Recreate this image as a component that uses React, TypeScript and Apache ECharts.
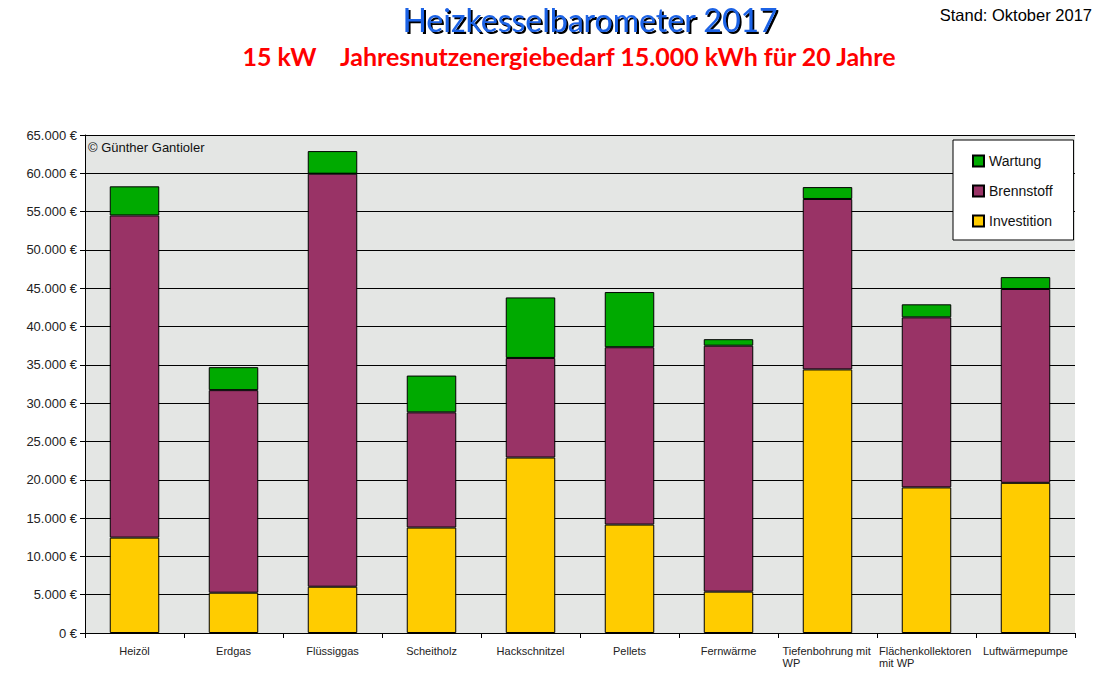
import React, { useEffect, useRef } from 'react';
import * as echarts from 'echarts';

const categories = [
  'Heizöl',
  'Erdgas',
  'Flüssiggas',
  'Scheitholz',
  'Hackschnitzel',
  'Pellets',
  'Fernwärme',
  'Tiefenbohrung mit\nWP',
  'Flächenkollektoren\nmit WP',
  'Luftwärmepumpe',
];
const investition = [12450, 5260, 6040, 13760, 22900, 14150, 5400, 34400, 19000, 19600];
const brennstoff = [42050, 26440, 53910, 15040, 13000, 23150, 32100, 22250, 22200, 25300];
const wartung = [3800, 3000, 2950, 4800, 7900, 7200, 850, 1550, 1700, 1550];
const legendOrder = ['Wartung', 'Brennstoff', 'Investition'];

const fmtEuro = (v: number) =>
  String(v).replace(/\B(?=(\d{3})+(?!\d))/g, '.') + ' €';

export default function App() {
  const ref = useRef<HTMLDivElement>(null);
  useEffect(() => {
    if (!ref.current) return;
    const chart = echarts.init(ref.current, undefined, { renderer: 'svg' });
    const sans = 'Liberation Sans, Arial, sans-serif';
    const barStyle = (color: string) => ({
      color,
      borderColor: '#000',
      borderWidth: 1,
    });
    chart.setOption({
      animation: false,
      backgroundColor: '#ffffff',
      textStyle: { fontFamily: sans },
      graphic: [
        {
          type: 'text',
          style: {
            text: 'Heizkesselbarometer 2017',
            x: 590,
            y: 19,
            textAlign: 'center',
            textVerticalAlign: 'middle',
            font: '32px Lato, sans-serif',
            fill: '#1e63e6',
            textShadowColor: '#000',
            textShadowOffsetX: 2,
            textShadowOffsetY: 2,
            textShadowBlur: 0.5,
          },
        },
        {
          type: 'text',
          style: {
            text: '15 kW    Jahresnutzenergiebedarf 15.000 kWh für 20 Jahre',
            x: 569,
            y: 56,
            textAlign: 'center',
            textVerticalAlign: 'middle',
            font: 'bold 25px Lato, sans-serif',
            fill: '#ff0000',
          },
        },
        {
          type: 'text',
          style: {
            text: 'Stand: Oktober 2017',
            x: 1092,
            y: 15,
            textAlign: 'right',
            textVerticalAlign: 'middle',
            font: '16.5px ' + sans,
            fill: '#000',
          },
        },
        {
          type: 'text',
          style: {
            text: '© Günther Gantioler',
            x: 88,
            y: 147,
            textAlign: 'left',
            textVerticalAlign: 'middle',
            font: '13px ' + sans,
            fill: '#111',
          },
          z: 10,
        },
      ],
      legend: {
        data: legendOrder,
        orient: 'vertical',
        left: 953,
        top: 140,
        backgroundColor: '#fff',
        borderColor: '#000',
        borderWidth: 1,
        padding: [14, 21, 12, 19],
        itemGap: 16,
        itemWidth: 11,
        itemHeight: 11,
        icon: 'rect',
        textStyle: { fontSize: 14, color: '#111', fontFamily: sans },
      },
      grid: {
        left: 85,
        right: 30,
        top: 135,
        bottom: 41,
        show: true,
        backgroundColor: '#e4e6e4',
        borderWidth: 0,
      },
      xAxis: {
        type: 'category',
        data: categories,
        axisLine: { show: true, lineStyle: { color: '#000', width: 1 } },
        axisTick: { show: true, length: 5, interval: 0, lineStyle: { color: '#000' } },
        axisLabel: {
          interval: 0,
          margin: 12,
          fontSize: 11,
          color: '#222',
          fontFamily: sans,
          formatter: (v: string) => {
            const lines = v.split('\n');
            if (lines.length > 1) {
              const key = lines[0].length > 17 ? 'b' : 'a';
              return lines.map((s) => `{${key}|${s}}`).join('\n');
            }
            return v;
          },
          rich: {
            a: { width: 90, align: 'left', fontSize: 11, color: '#222', fontFamily: sans, lineHeight: 12 },
            b: { width: 95, align: 'left', fontSize: 11, color: '#222', fontFamily: sans, lineHeight: 12 },
          },
        },
      },
      yAxis: {
        type: 'value',
        min: 0,
        max: 65000,
        interval: 5000,
        axisLine: { show: true, lineStyle: { color: '#000', width: 1 } },
        axisTick: { show: true, length: 5, lineStyle: { color: '#000' } },
        axisLabel: {
          margin: 8,
          fontSize: 13,
          color: '#222',
          fontFamily: sans,
          formatter: (v: number) => fmtEuro(v),
        },
        splitLine: { show: true, lineStyle: { color: '#000', width: 1 } },
      },
      series: [
        {
          name: 'Investition',
          type: 'bar',
          stack: 'total',
          barWidth: '50%',
          data: investition,
          itemStyle: barStyle('#ffcc00'),
        },
        {
          name: 'Brennstoff',
          type: 'bar',
          stack: 'total',
          barWidth: '50%',
          data: brennstoff,
          itemStyle: barStyle('#993366'),
        },
        {
          name: 'Wartung',
          type: 'bar',
          stack: 'total',
          barWidth: '50%',
          data: wartung,
          itemStyle: barStyle('#00aa00'),
        },
      ],
    });
    return () => chart.dispose();
  }, []);
  return (
    <div
      ref={ref}
      style={{ position: 'absolute', left: 0, top: 0, width: 1105, height: 674 }}
    />
  );
}
